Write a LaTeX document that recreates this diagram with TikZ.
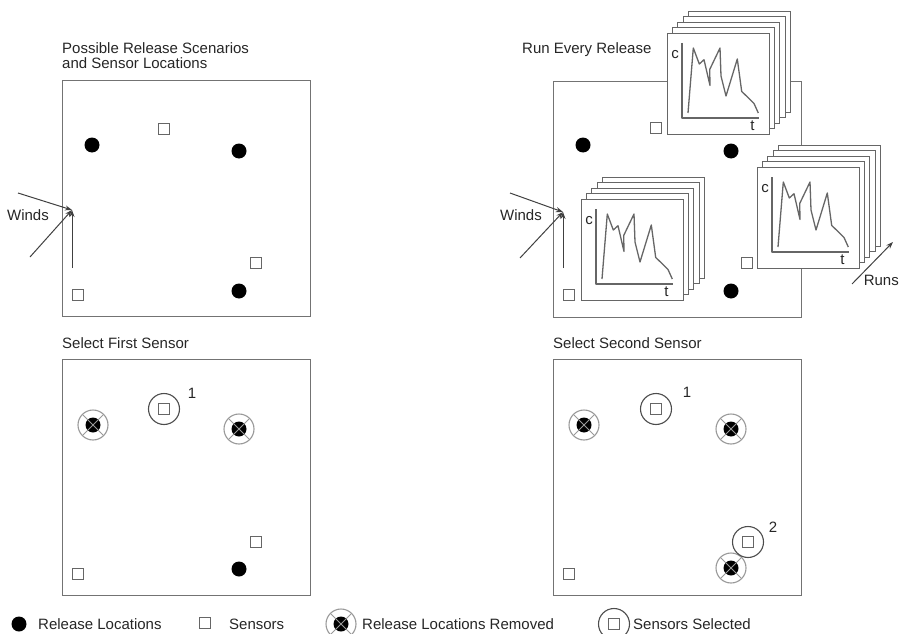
\documentclass[tikz,border=0pt]{standalone}
\usepackage{fontspec}
\setmainfont{Liberation Sans}
\usetikzlibrary{arrows.meta, positioning}

\begin{document}
\begin{tikzpicture}[
    x=1pt, y=-1pt,
    font=\fontsize{15}{15}\selectfont,
    field/.style={
        rectangle, draw=black!55, line width=1.2pt,
        minimum width=248pt, minimum height=236pt,
        anchor=north west, inner sep=0pt
    },
    heading/.style={anchor=base west, align=left, inner sep=0pt, text=black!85},
    label/.style={inner sep=0pt, text=black!85},
    release/.style={circle, fill=black, minimum size=15pt, inner sep=0pt},
    sensor/.style={
        rectangle, draw=black!60, fill=white, line width=1pt,
        minimum size=11pt, inner sep=0pt
    },
    removed/.style={
        circle, draw=black!40, line width=1.1pt, minimum size=30pt, inner sep=0pt,
        path picture={
            \fill[black] (path picture bounding box.center) circle (7.5pt);
            \draw[black!40, line width=1pt]
                (path picture bounding box.south west) -- (path picture bounding box.north east)
                (path picture bounding box.north west) -- (path picture bounding box.south east);
        }
    },
    picked/.style={
        circle, draw=black!70, line width=1.1pt, minimum size=31pt, inner sep=0pt,
        path picture={
            \draw[black!60, line width=1pt] (path picture bounding box.center)
                +(-5.5pt,-5.5pt) rectangle +(5.5pt,5.5pt);
        }
    },
    wind/.style={-{Stealth[length=7pt,width=5pt]}, line width=1pt, draw=black!75},
    sheet/.style={draw=black!60, fill=white, line width=0.9pt},
    trace/.style={draw=black!60, line width=1.3pt, line join=round},
    runstack/.pic={
        \foreach \k in {4,3,2,1,0}
            \draw[sheet] (5.4*\k,-5.4*\k) rectangle ++(102,101);
        \draw[trace] (15,10) |- (92,85);
        \draw[trace] (21,80) -- (26.3,15) -- (32.3,31) -- (37,26.7) -- (43,52.5)
            -- (42.7,36.5) -- (53,15) -- (54,43) -- (59,63) -- (70.3,26)
            -- (74.7,58.5) -- (80.5,64) -- (87,70.5) -- (91.3,80);
        \node[label] (cax) at (8,22) {c};
        \node[label] (tax) at (85.5,93) {t};
    }
]
\useasboundingbox (0,0) rectangle (900,634);

% possible releases and sensors
\begin{scope}[shift={(62,80)}]
\node[field] (fieldA) at (0,0) {};
\node[heading] (titleA) at (0,-11.5) {Possible Release Scenarios\\and Sensor Locations};
\node[release] (relA1) at (30,65) {};
\node[release] (relA2) at (177,71) {};
\node[release] (relA3) at (177,211) {};
\node[sensor] (senA1) at (102,49) {};
\node[sensor] (senA2) at (194,183) {};
\node[sensor] (senA3) at (16,215) {};
\coordinate (windA) at (10,130);
\coordinate (windA1) at (-44,113);
\coordinate (windA2) at (-32,177);
\coordinate (windA3) at (10,188);
\draw[wind] (windA1) -- (windA);
\draw[wind] (windA2) -- (windA);
\draw[wind] (windA3) -- (windA);
\node[label, anchor=east] (windsA) at (-13,135) {Winds};
\end{scope}

% run every release
\begin{scope}[shift={(553,81)}]
\node[field] (fieldB) at (0,0) {};
\node[heading] (titleB) at (-31,-27.5) {Run Every Release};
\node[release] (relB1) at (30,64) {};
\node[release] (relB2) at (178,70) {};
\node[release] (relB3) at (178,210) {};
\node[sensor] (senB1) at (103,47) {};
\node[sensor] (senB2) at (194,182) {};
\node[sensor] (senB3) at (16,214) {};
\coordinate (windB) at (10,131);
\coordinate (windB1) at (-43,112);
\coordinate (windB2) at (-33,177);
\coordinate (windB3) at (10,187);
\draw[wind] (windB1) -- (windB);
\draw[wind] (windB2) -- (windB);
\draw[wind] (windB3) -- (windB);
\node[label, anchor=east] (windsB) at (-11,134) {Winds};
\pic (stackA) at (114,-48) {runstack};
\pic (stackB) at (28,118) {runstack};
\pic (stackC) at (204,86) {runstack};
\coordinate (runs0) at (299,203);
\coordinate (runs1) at (340,161);
\draw[wind] (runs0) -- (runs1);
\node[label, anchor=east] (runs) at (346,199) {Runs};
\end{scope}

% first sensor
\begin{scope}[shift={(62,359)}]
\node[field] (fieldC) at (0,0) {};
\node[heading] (titleC) at (0,-11) {Select First Sensor};
\node[removed] (relC1) at (31,66) {};
\node[removed] (relC2) at (177,70) {};
\node[release] (relC3) at (177,210) {};
\node[picked] (senC1) at (102,50) {};
\node[label] (numC1) at (130,34) {1};
\node[sensor] (senC2) at (194,183) {};
\node[sensor] (senC3) at (16,215) {};
\end{scope}

% second sensor
\begin{scope}[shift={(553,359)}]
\node[field] (fieldD) at (0,0) {};
\node[heading] (titleD) at (0,-11) {Select Second Sensor};
\node[removed] (relD1) at (31,66) {};
\node[removed] (relD2) at (178,70) {};
\node[removed] (relD3) at (178,209) {};
\node[picked] (senD1) at (103,50) {};
\node[label] (numD1) at (134,33) {1};
\node[picked] (senD2) at (195,183) {};
\node[label] (numD2) at (220,168) {2};
\node[sensor] (senD3) at (16,215) {};
\end{scope}

% legend
\node[release] (keyrel) at (19,624) {};
\node[label, anchor=west] (keyreltext) at (38,624) {Release Locations};
\node[sensor] (keysen) at (205,623) {};
\node[label, anchor=west] (keysentext) at (229,624) {Sensors};
\node[removed] (keyrem) at (341,624) {};
\node[label, anchor=west] (keyremtext) at (362,624) {Release Locations Removed};
\node[picked] (keypick) at (614,624) {};
\node[label, anchor=west] (keypicktext) at (633,624) {Sensors Selected};
\end{tikzpicture}
\end{document}
